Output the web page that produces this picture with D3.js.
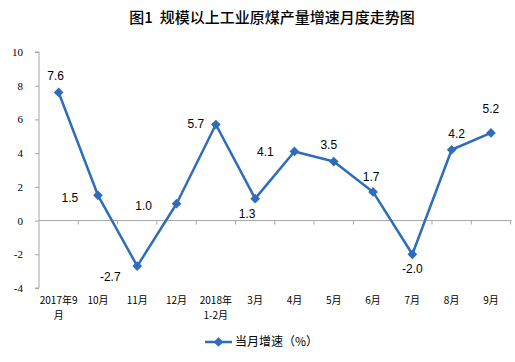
<!DOCTYPE html>
<html>
<head>
<meta charset="utf-8">
<script src="https://cdn.jsdelivr.net/npm/d3@7"></script>
<style>
  html,body{margin:0;padding:0;background:#fff;}
  #chart{width:515px;height:362px;}
</style>
</head>
<body>
<div id="chart"></div>
<script>
// 规模以上工业原煤产量增速月度走势
const months = ['2017年9月','10月','11月','12月','2018年1-2月','3月','4月','5月','6月','7月','8月','9月'];
// two-line tick labels (line1, line2)
const monthLines = [['2017年9','月'],['10月'],['11月'],['12月'],['2018年','1-2月'],['3月'],['4月'],['5月'],['6月'],['7月'],['8月'],['9月']];
const growth = [7.6, 1.5, -2.7, 1.0, 5.7, 1.3, 4.1, 3.5, 1.7, -2.0, 4.2, 5.2];
const yTicks = [-4,-2,0,2,4,6,8,10];
// label offsets from point (layout only)
const labelOffset = [[-3,-17],[-28,3],[-27,11],[-33,2],[-20,-1],[-8,15],[-29,0],[-5,-17],[-2,-15],[0,15],[5,-16],[0,-24]];

(function(){
  const w = 515, h = 362;
  const left = 39, right = 510.6, top = 52, bottom = 288;
  const blue = '#2d6dbb', gray = '#a6a6a6';

  const svg = d3.select('#chart').append('svg').attr('width',w).attr('height',h);

  const x = d3.scaleBand().domain(months).range([left,right]);
  const y = d3.scaleLinear().domain([-4,10]).range([bottom,top]);

  // title
  svg.append('text').attr('x',272).attr('y',23).attr('text-anchor','middle')
    .attr('font-family','"Noto Sans CJK SC", sans-serif').attr('font-size',15).attr('font-weight',500)
    .attr('fill','#000').text('图1\u00a0\u00a0规模以上工业原煤产量增速月度走势图');

  // y axis
  const yAxis = d3.axisLeft(y).tickValues(yTicks).tickSize(4).tickFormat(d=>d);
  const gy = svg.append('g').attr('transform',`translate(${left},0)`).call(yAxis);
  gy.select('.domain').attr('stroke',gray).attr('d',`M-4,${top}H0V${bottom}H-4`);
  gy.selectAll('.tick line').attr('stroke',gray);
  gy.selectAll('.tick text').attr('x',-16).attr('font-family','"Liberation Serif", serif').attr('font-size',11).attr('fill','#000');

  // zero line with category ticks
  const y0 = y(0);
  svg.append('line').attr('x1',left).attr('x2',right+1).attr('y1',y0).attr('y2',y0).attr('stroke',gray);
  svg.selectAll('.ctick').data(months).enter().append('line')
    .attr('x1',d=>x(d)+x.bandwidth()).attr('x2',d=>x(d)+x.bandwidth())
    .attr('y1',y0).attr('y2',y0+4).attr('stroke',gray);

  // x labels
  const xl = svg.selectAll('.xl').data(monthLines).enter().append('text')
    .attr('text-anchor','middle').attr('font-family','"Noto Sans CJK SC", sans-serif').attr('font-size',10).attr('fill','#000');
  xl.each(function(d,i){
    const t = d3.select(this);
    d.forEach((s,j)=>t.append('tspan').attr('x',x(months[i])+x.bandwidth()/2).attr('y',304+j*15).text(s));
  });

  // line
  const pts = growth.map((v,i)=>[x(months[i])+x.bandwidth()/2, y(v)]);
  svg.append('path').datum(pts).attr('d',d3.line()).attr('fill','none')
    .attr('stroke',blue).attr('stroke-width',2.5).attr('stroke-linejoin','round');

  const diamond = d3.symbol().type(d3.symbolDiamond2).size(60);
  svg.selectAll('.pt').data(pts).enter().append('path')
    .attr('transform',d=>`translate(${d[0]},${d[1]})`).attr('d',diamond).attr('fill',blue);

  // data labels
  svg.selectAll('.lbl').data(growth).enter().append('text')
    .attr('x',(d,i)=>pts[i][0]+labelOffset[i][0]).attr('y',(d,i)=>pts[i][1]+labelOffset[i][1])
    .attr('dy','0.35em').attr('text-anchor','middle')
    .attr('font-family','"Liberation Sans", Arial, sans-serif').attr('font-size',12).attr('fill','#000')
    .text(d=>d.toFixed(1));

  // legend
  const lg = svg.append('g').attr('transform','translate(205,342)');
  lg.append('line').attr('x1',0).attr('x2',27).attr('stroke',blue).attr('stroke-width',2.5);
  lg.append('path').attr('transform','translate(13.5,0)').attr('d',diamond).attr('fill',blue);
  lg.append('text').attr('x',30).attr('dy','0.35em').attr('font-family','"Noto Sans CJK SC", sans-serif')
    .attr('font-size',12).attr('fill','#000').text('当月增速（%）');
})();
</script>
</body>
</html>
